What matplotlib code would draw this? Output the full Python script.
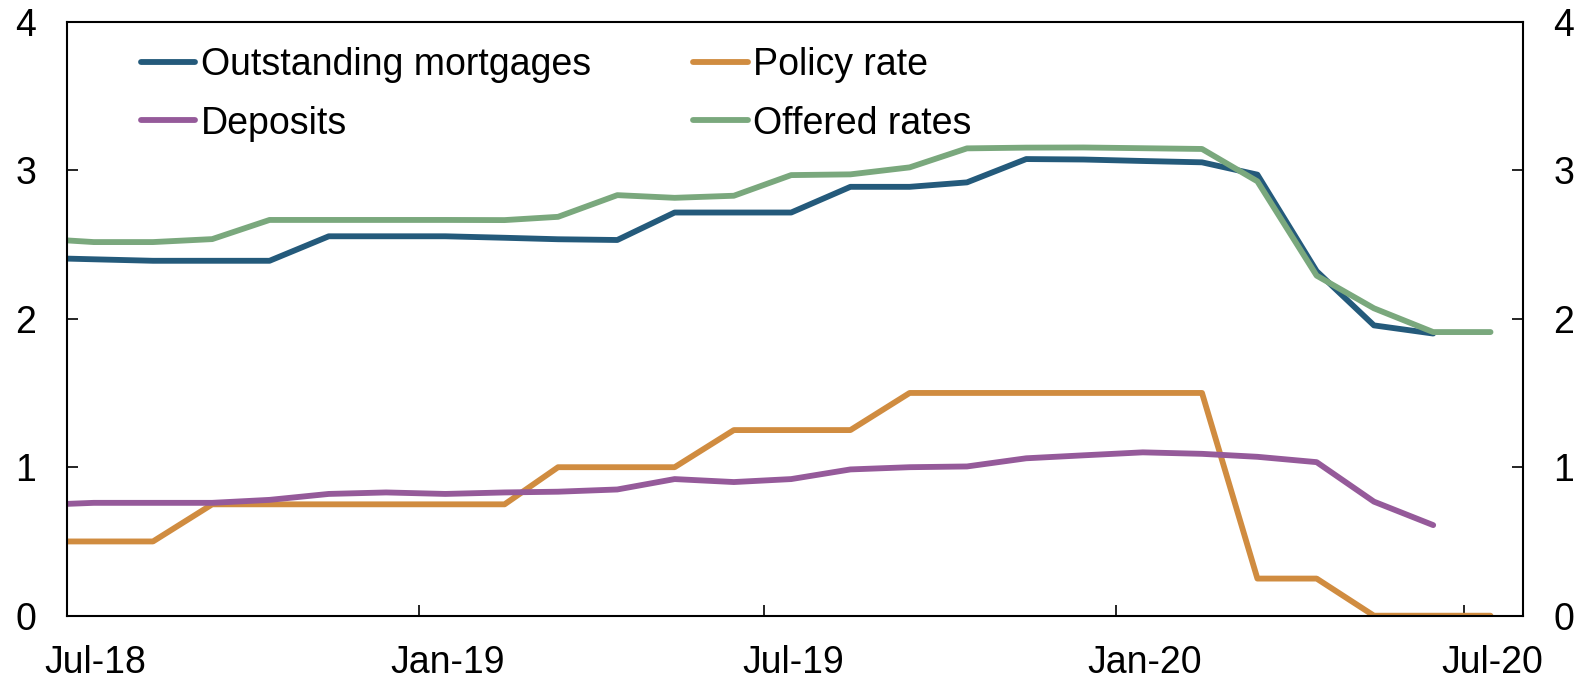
import matplotlib
matplotlib.use("Agg")
import matplotlib.pyplot as plt
import pandas as pd

plt.rcParams['font.family'] = ['Liberation Sans', 'DejaVu Sans']

# Monthly observations (mid-month), starting Jun-18
months_long = pd.date_range('2018-06-01', '2020-07-01', freq='MS') + pd.Timedelta(days=14)   # Jun-18 .. Jul-20
months_short = months_long[:-1]                                                              # Jun-18 .. Jun-20

outstanding_mortgages = [2.41, 2.40, 2.39, 2.39, 2.39, 2.555, 2.555, 2.555, 2.545, 2.535, 2.53,
                         2.715, 2.715, 2.715, 2.888, 2.888, 2.918, 3.075, 3.072, 3.062, 3.053,
                         2.97, 2.32, 1.955, 1.90]
policy_rate = [0.5, 0.5, 0.5, 0.75, 0.75, 0.75, 0.75, 0.75, 0.75, 1.0, 1.0, 1.0, 1.25,
               1.25, 1.25, 1.5, 1.5, 1.5, 1.5, 1.5, 1.5, 0.25, 0.25, 0.0, 0.0, 0.0]
deposits = [0.745, 0.76, 0.76, 0.76, 0.78, 0.82, 0.83, 0.82, 0.83, 0.835, 0.85, 0.92, 0.90,
            0.92, 0.985, 1.00, 1.005, 1.06, 1.08, 1.10, 1.09, 1.07, 1.034, 0.768, 0.61]
offered_rates = [2.54, 2.516, 2.516, 2.536, 2.665, 2.665, 2.665, 2.665, 2.664, 2.686, 2.832,
                 2.814, 2.828, 2.967, 2.972, 3.019, 3.147, 3.152, 3.153, 3.148, 3.143, 2.925,
                 2.29, 2.07, 1.91, 1.91]

tick_dates = pd.to_datetime(['2018-07-01', '2019-01-01', '2019-07-01', '2020-01-01', '2020-07-01'])
label_dates = tick_dates + pd.Timedelta(days=15)
tick_labels = ['Jul-18', 'Jan-19', 'Jul-19', 'Jan-20', 'Jul-20']
y_ticks = [0, 1, 2, 3, 4]

c_blue = '#245a7b'
c_orange = '#d08c40'
c_purple = '#955a9a'
c_green = '#7aa87d'

fs = 27

fig = plt.figure(figsize=(15.85, 6.79), dpi=100)
ax = fig.add_axes([67/1585, 1-615.7/679, (1523-67)/1585, (615.7-21.7)/679])

lw = 4.2
ax.plot(months_short, outstanding_mortgages, color=c_blue, lw=lw, label='Outstanding mortgages', solid_capstyle='round')
ax.plot(months_long, policy_rate, color=c_orange, lw=lw, label='Policy rate', solid_capstyle='round')
ax.plot(months_short, deposits, color=c_purple, lw=lw, label='Deposits', solid_capstyle='round')
ax.plot(months_long, offered_rates, color=c_green, lw=lw, label='Offered rates', solid_capstyle='round')

ax.set_xlim(pd.Timestamp('2018-07-01'), pd.Timestamp('2020-08-01'))
ax.set_ylim(0, 4)
ax.set_xticks(tick_dates)
ax.set_xticklabels([''] * len(tick_dates))
ax.set_xticks(label_dates, minor=True)
ax.set_xticklabels(tick_labels, minor=True)
ax.set_yticks(y_ticks)
ax.set_yticklabels([str(v) for v in y_ticks])

for s in ax.spines.values():
    s.set_linewidth(1.5)
    s.set_color('black')

ax.tick_params(axis='x', which='major', direction='in', length=8, width=1.2)
ax.tick_params(axis='x', which='minor', direction='in', length=0, labelsize=fs, pad=21)
ax.tick_params(axis='y', direction='in', length=8, width=1.2, labelsize=fs, pad=22,
               left=True, right=True, labelleft=True, labelright=True)
ax.tick_params(axis='y', which='minor', left=False, right=False)

handles, labels = ax.get_legend_handles_labels()
order = [0, 2, 1, 3]
leg = fig.legend([handles[i] for i in order], [labels[i] for i in order],
                 ncol=2, frameon=False, fontsize=fs, loc='upper left',
                 bbox_to_anchor=(141/1585, 1-47/679), borderaxespad=0, borderpad=0,
                 handlelength=1.45, handletextpad=0.15, columnspacing=2.72, labelspacing=0.6)

fig.savefig('out.png', dpi=100)
